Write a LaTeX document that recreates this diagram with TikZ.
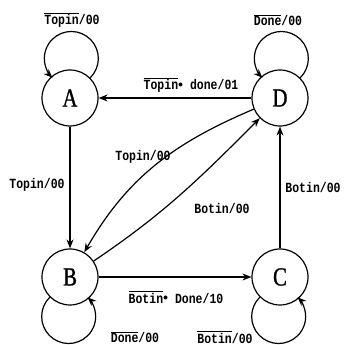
\documentclass[tikz,border=0pt]{standalone}
\usepackage{fontspec}
\usetikzlibrary{arrows.meta}
\newfontfamily\lblfont[FakeStretch=0.82]{Liberation Mono Bold}
\newfontfamily\stfont[FakeStretch=0.8,FakeBold=1]{Liberation Serif}
\newcommand\ov[1]{$\overline{\mbox{#1}}$}
\newcommand\dt{\raisebox{.3ex}{\scalebox{.7}{$\bullet$}}}
\begin{document}
\begin{tikzpicture}[x=1pt,y=1pt,
  state/.style={circle,draw,line width=1.2pt,minimum size=56pt,inner sep=0pt,font=\stfont\fontsize{26}{26}\selectfont},
  edge/.style={line width=1.2pt,-{Stealth[length=9pt,width=7pt,inset=3pt]}},
  lbl/.style={font=\lblfont\fontsize{14}{14}\selectfont,inner sep=1pt}]
\useasboundingbox (0,0) rectangle (345,345);
\node[state] (A) at (70,247) {A};
\node[state] (D) at (280,247) {D};
\node[state] (B) at (70,68) {B};
\node[state] (C) at (280,68) {C};
% self loops
\draw[edge] (A.45) arc[start angle=-45.6,end angle=225.6,radius=27];
\draw[edge] (D.45) arc[start angle=-45.6,end angle=225.6,radius=27];
\draw[edge] (B.225) arc[start angle=134.4,end angle=405.6,radius=27];
\draw[edge] (C.225) arc[start angle=134.4,end angle=405.6,radius=27];
% straight edges
\draw[edge] (D) -- (A);
\draw[edge] (A) -- (B);
\draw[edge] (B) -- (C);
\draw[edge] (C) -- (D);
% curved edges
\draw[edge] (D) to[out=203,in=60] (B);
\draw[edge] (B) to[out=34,in=225] (D);
% labels
\node[lbl] (l1) at (72,325) {\ov{Topin}/00};
\node[lbl] (l2) at (278,325) {\ov{Done}/00};
\node[lbl] (l3) at (191,260) {\ov{Topin}\dt{} done/01};
\node[lbl] (l4) at (37,160) {Topin/00};
\node[lbl] (l5) at (143,188) {Topin/00};
\node[lbl] (l6) at (222,137) {Botin/00};
\node[lbl] (l7) at (313,158) {Botin/00};
\node[lbl] (l8) at (176,48) {\ov{Botin}\dt{} Done/10};
\node[lbl] (l9) at (135,8) {\ov{Done}/00};
\node[lbl] (l10) at (225,8) {\ov{Botin}/00};
\end{tikzpicture}
\end{document}
